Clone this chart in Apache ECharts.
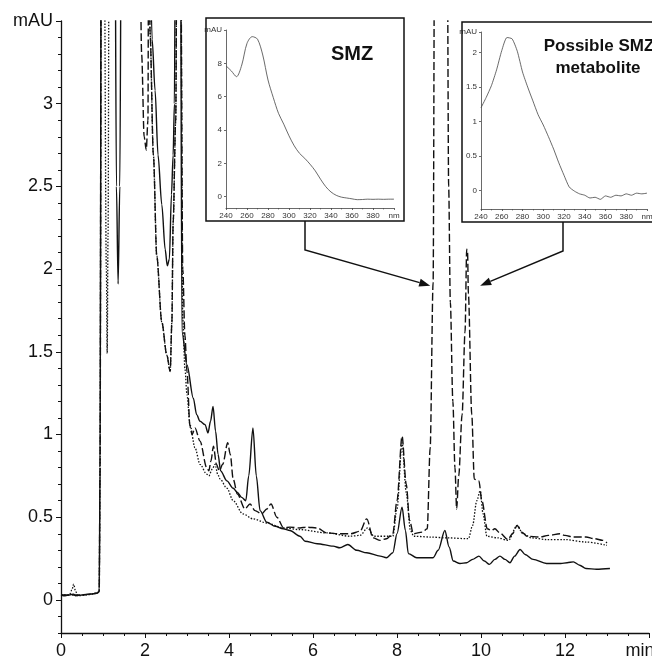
<!DOCTYPE html>
<html>
<head>
<meta charset="utf-8">
<script src="https://cdn.jsdelivr.net/npm/echarts@6/dist/echarts.min.js"></script>
<style>
html,body{margin:0;padding:0;background:#fff;}
#c{width:652px;height:660px;}
</style>
</head>
<body>
<div id="c"></div>
<script>
// ---- main chromatogram traces [time (min), absorbance (mAU)] ----
const solidTrace = [[0,0.03],[0.1,0.025],[0.2,0.03],[0.3,0.035],[0.35,0.025],[0.5,0.03],[0.7,0.035],[0.85,0.04],[0.91,0.05],[0.93,0.8],[0.96,4.5],[1.28,4.5],[1.32,2.5],[1.36,1.91],[1.40,2.5],[1.44,4.5],[2.08,4.5],[2.17,3.39],[2.24,3.08],[2.31,2.69],[2.4,2.39],[2.48,2.12],[2.53,2.02],[2.58,2.06],[2.63,2.45],[2.67,2.69],[2.70,3.0],[2.73,4.5],[2.84,4.5],[2.88,1.62],[3.0,1.42],[3.15,1.22],[3.23,1.12],[3.31,1.08],[3.43,1.06],[3.5,1.01],[3.56,1.08],[3.62,1.17],[3.68,1.02],[3.74,0.88],[3.8,0.78],[3.95,0.72],[4.1,0.675],[4.2,0.65],[4.3,0.62],[4.4,0.6],[4.47,0.75],[4.57,1.04],[4.65,0.75],[4.74,0.54],[4.9,0.47],[5.1,0.445],[5.29,0.43],[5.45,0.42],[5.69,0.385],[5.81,0.355],[6.1,0.34],[6.48,0.325],[6.64,0.315],[6.83,0.335],[7.04,0.3],[7.28,0.285],[7.6,0.265],[7.75,0.255],[7.9,0.285],[8.0,0.4],[8.12,0.56],[8.2,0.42],[8.27,0.28],[8.47,0.255],[8.86,0.255],[8.98,0.3],[9.14,0.42],[9.24,0.32],[9.34,0.235],[9.5,0.22],[9.66,0.225],[9.8,0.245],[9.95,0.265],[10.08,0.235],[10.2,0.215],[10.33,0.245],[10.45,0.265],[10.57,0.245],[10.69,0.225],[10.8,0.265],[10.93,0.305],[11.05,0.275],[11.24,0.245],[11.56,0.22],[11.9,0.22],[12.05,0.225],[12.2,0.23],[12.35,0.21],[12.5,0.19],[12.75,0.185],[13.07,0.19]];
const dashedTrace = [[0,0.03],[0.2,0.03],[0.35,0.03],[0.5,0.03],[0.85,0.04],[0.91,0.05],[0.93,0.8],[0.96,4.5],[1.86,4.5],[1.92,3.3],[1.98,2.8],[2.03,2.72],[2.07,2.9],[2.09,4.5],[2.12,3.43],[2.2,2.69],[2.28,2.08],[2.4,1.68],[2.52,1.48],[2.6,1.38],[2.64,1.68],[2.67,2.28],[2.73,2.89],[2.77,4.5],[2.84,4.5],[2.9,2.0],[2.95,1.6],[3.0,1.38],[3.07,1.05],[3.12,1.0],[3.19,1.04],[3.31,0.96],[3.47,0.8],[3.52,0.78],[3.57,0.84],[3.63,0.93],[3.7,0.82],[3.77,0.78],[3.85,0.82],[3.97,0.95],[4.03,0.88],[4.1,0.73],[4.2,0.64],[4.38,0.55],[4.5,0.58],[4.62,0.54],[4.78,0.52],[4.9,0.55],[5.0,0.58],[5.14,0.5],[5.3,0.435],[5.45,0.44],[5.69,0.435],[5.85,0.44],[6.1,0.435],[6.33,0.405],[6.64,0.4],[6.9,0.4],[7.12,0.415],[7.28,0.49],[7.43,0.375],[7.6,0.36],[7.75,0.37],[7.9,0.4],[8.0,0.6],[8.12,0.99],[8.22,0.7],[8.3,0.48],[8.39,0.4],[8.6,0.41],[8.72,0.43],[8.79,0.92],[8.86,1.92],[8.9,4.5],[9.19,4.5],[9.23,2.5],[9.27,1.8],[9.33,1.2],[9.38,0.8],[9.42,0.55],[9.47,0.75],[9.55,1.12],[9.62,1.62],[9.66,2.12],[9.68,2.1],[9.7,1.85],[9.78,1.12],[9.84,0.73],[9.95,0.72],[10.02,0.6],[10.15,0.43],[10.25,0.42],[10.33,0.43],[10.45,0.405],[10.64,0.365],[10.75,0.4],[10.86,0.45],[10.97,0.41],[11.1,0.385],[11.4,0.38],[11.6,0.39],[11.88,0.4],[12.0,0.39],[12.2,0.38],[12.5,0.38],[12.7,0.37],[12.9,0.36],[13.0,0.345]];
const dottedTrace = [[0,0.03],[0.2,0.03],[0.26,0.06],[0.3,0.095],[0.35,0.05],[0.4,0.025],[0.6,0.03],[0.85,0.04],[0.91,0.05],[0.93,0.8],[0.96,4.5],[1.02,4.5],[1.08,2.0],[1.1,1.49],[1.12,2.2],[1.15,4.5],[2.09,4.5],[2.12,3.43],[2.2,2.69],[2.28,2.08],[2.4,1.68],[2.52,1.48],[2.6,1.38],[2.64,1.68],[2.67,2.28],[2.73,2.89],[2.77,4.5],[2.84,4.5],[2.9,1.7],[2.95,1.4],[3.0,1.24],[3.07,1.06],[3.19,0.92],[3.31,0.82],[3.47,0.76],[3.52,0.75],[3.6,0.79],[3.67,0.82],[3.73,0.76],[3.79,0.73],[3.95,0.675],[4.1,0.6],[4.33,0.52],[4.57,0.49],[4.9,0.465],[5.29,0.435],[5.69,0.425],[6.33,0.405],[6.88,0.385],[7.12,0.39],[7.3,0.435],[7.45,0.385],[7.9,0.385],[8.0,0.55],[8.12,0.95],[8.22,0.65],[8.32,0.42],[8.4,0.385],[8.8,0.38],[9.2,0.375],[9.7,0.37],[9.8,0.45],[9.9,0.6],[9.98,0.66],[10.05,0.52],[10.14,0.385],[10.4,0.375],[10.65,0.36],[10.86,0.45],[11.0,0.4],[11.2,0.375],[11.56,0.365],[12.0,0.365],[12.5,0.35],[13.0,0.33]];

// ---- UV spectra (insets) ----
const wavelengths = [240,245,250,255,260,265,270,275,280,285,290,295,300,305,310,315,320,325,330,335,340,345,350,355,360,365,370,375,380,385,390,395,400];
const smzSpectrum = [7.85,7.55,7.2,7.9,9.2,9.6,9.45,8.5,7.0,5.95,5.0,4.35,3.65,3.05,2.6,2.3,1.95,1.55,1.05,0.6,0.28,0.08,-0.03,-0.08,-0.13,-0.18,-0.17,-0.15,-0.16,-0.15,-0.16,-0.15,-0.15];
const metSpectrum = [1.2,1.35,1.52,1.75,2.03,2.22,2.2,2.02,1.72,1.5,1.3,1.1,0.95,0.78,0.6,0.4,0.22,0.05,-0.01,-0.05,-0.07,-0.11,-0.1,-0.13,-0.08,-0.1,-0.07,-0.08,-0.05,-0.07,-0.04,-0.05,-0.04];

// ---- tick labels ----
const mainYTicks = [0,0.5,1,1.5,2,2.5,3,3.5];
const smzYTicks = [0,2,4,6,8,10];
const metYTicks = [0,0.5,1,1.5,2,2.3];

const FONT = 'Liberation Sans, Arial, sans-serif';
const chart = echarts.init(document.getElementById('c'), null, {renderer:'canvas'});

function pairs(xs, ys){ return xs.map((x,i)=>[x, ys[i]]); }

const insetAxisLine = {show:true, lineStyle:{color:'#444', width:0.8}};
const insetLabel = {color:'#333', fontSize:8, fontFamily:FONT, margin:4};
const mainLine = {type:'line', xAxisIndex:0, yAxisIndex:0, showSymbol:false, symbol:'none', clip:true, smooth:0.3, smoothMonotone:'x'};

const option = {
  animation:false,
  backgroundColor:'#fff',
  grid:[
    {left:61, right:3, top:21, bottom:27, containLabel:false, outerBoundsMode:'none'},
    {left:226, right:258, top:30, bottom:452, containLabel:false, outerBoundsMode:'none'},
    {left:481, right:5, top:32, bottom:451, containLabel:false, outerBoundsMode:'none'}
  ],
  xAxis:[
    {gridIndex:0, type:'value', min:0, max:14, interval:2,
     axisLine:{onZero:false, lineStyle:{color:'#111', width:1.3}},
     axisTick:{show:true, length:5, lineStyle:{color:'#111'}},
     minorTick:{show:true, splitNumber:4, length:3, lineStyle:{color:'#111'}},
     splitLine:{show:false},
     axisLabel:{color:'#111', fontSize:18, fontFamily:FONT, margin:9,
       formatter:function(v){ return v===14 ? '{u|min}' : String(v); },
       rich:{u:{fontSize:18, fontFamily:FONT, color:'#111', padding:[0,18,0,0]}}}},
    {gridIndex:1, type:'value', min:240, max:400, interval:20,
     axisLine:Object.assign({onZero:false}, insetAxisLine),
     axisTick:{length:2, lineStyle:{color:'#444', width:0.8}},
     minorTick:{show:true, splitNumber:2, length:1.5, lineStyle:{color:'#444', width:0.6}},
     splitLine:{show:false},
     axisLabel:Object.assign({formatter:function(v){return v===400?'nm':String(v);}}, insetLabel)},
    {gridIndex:2, type:'value', min:240, max:400, interval:20,
     axisLine:Object.assign({onZero:false}, insetAxisLine),
     axisTick:{length:2, lineStyle:{color:'#444', width:0.8}},
     minorTick:{show:true, splitNumber:2, length:1.5, lineStyle:{color:'#444', width:0.6}},
     splitLine:{show:false},
     axisLabel:Object.assign({formatter:function(v){return v===400?'nm':String(v);}}, insetLabel)}
  ],
  yAxis:[
    {gridIndex:0, type:'value', min:-0.2, max:3.5, position:'left',
     axisLine:{show:true, onZero:false, lineStyle:{color:'#111', width:1.3}},
     axisTick:{show:true, length:5, customValues:mainYTicks, lineStyle:{color:'#111'}},
     splitLine:{show:false},
     axisLabel:{color:'#111', fontSize:18, fontFamily:FONT, margin:8, customValues:mainYTicks,
       formatter:function(v){ return Math.abs(v-3.5)<1e-6 ? 'mAU' : String(v); }}},
    {gridIndex:0, type:'value', min:-0.2, max:3.5, interval:0.1, position:'left',
     axisLine:{show:false, onZero:false},
     axisTick:{show:true, length:3, lineStyle:{color:'#111'}},
     splitLine:{show:false}, axisLabel:{show:false}},
    {gridIndex:1, type:'value', min:-0.68, max:10,
     axisLine:Object.assign({onZero:false}, insetAxisLine),
     axisTick:{length:2, customValues:smzYTicks, lineStyle:{color:'#444', width:0.8}},
     splitLine:{show:false},
     axisLabel:Object.assign({customValues:smzYTicks, formatter:function(v){return v===10?'mAU':String(v);}}, insetLabel)},
    {gridIndex:2, type:'value', min:-0.27, max:2.3,
     axisLine:Object.assign({onZero:false}, insetAxisLine),
     axisTick:{length:2, customValues:metYTicks, lineStyle:{color:'#444', width:0.8}},
     splitLine:{show:false},
     axisLabel:Object.assign({customValues:metYTicks, formatter:function(v){return Math.abs(v-2.3)<1e-6?'mAU':String(v);}}, insetLabel)}
  ],
  series:[
    Object.assign({data:solidTrace, lineStyle:{color:'#111', width:1.4, type:'solid'}}, mainLine),
    Object.assign({data:dashedTrace, lineStyle:{color:'#111', width:1.4, type:[8,3]}}, mainLine),
    Object.assign({data:dottedTrace, lineStyle:{color:'#111', width:1.3, type:[1.5,1.6]}}, mainLine),
    {type:'line', xAxisIndex:1, yAxisIndex:2, data:pairs(wavelengths, smzSpectrum), showSymbol:false, symbol:'none', smooth:0.3,
     lineStyle:{color:'#444', width:0.8}},
    {type:'line', xAxisIndex:2, yAxisIndex:3, data:pairs(wavelengths, metSpectrum), showSymbol:false, symbol:'none', smooth:0.2,
     lineStyle:{color:'#444', width:0.8}}
  ]
};
chart.setOption(option);

// ---- annotation: inset boxes, titles and arrows ----
function arrow(x0, y0, xm, ym, tip){
  const dx = tip[0]-xm, dy = tip[1]-ym, L = Math.sqrt(dx*dx+dy*dy);
  const ux = dx/L, uy = dy/L, len = 11, hw = 4;
  const bx = tip[0]-ux*len, by = tip[1]-uy*len;
  return [
    {type:'polyline', shape:{points:[[x0,y0],[xm,ym],[bx,by]]}, style:{stroke:'#111', lineWidth:1.5, fill:null}, z:20},
    {type:'polygon', shape:{points:[tip,[bx-uy*hw, by+ux*hw],[bx+uy*hw, by-ux*hw]]}, style:{fill:'#111'}, z:20}
  ];
}
const tipSMZ = chart.convertToPixel({gridIndex:0}, [8.79, 1.9]);
const tipMet = chart.convertToPixel({gridIndex:0}, [9.98, 1.9]);
const graphics = [
  {type:'rect', shape:{x:206, y:18, width:198, height:203}, style:{stroke:'#111', lineWidth:1.5, fill:null}, z:20},
  {type:'rect', shape:{x:462, y:22, width:220, height:200}, style:{stroke:'#111', lineWidth:1.5, fill:null}, z:20},
  {type:'text', x:352, y:54, style:{text:'SMZ', font:'bold 20px ' + FONT, fill:'#111', textAlign:'center', textVerticalAlign:'middle'}, z:20},
  {type:'text', x:599, y:46, style:{text:'Possible SMZ', font:'bold 17px ' + FONT, fill:'#111', textAlign:'center', textVerticalAlign:'middle'}, z:20},
  {type:'text', x:598, y:68, style:{text:'metabolite', font:'bold 17px ' + FONT, fill:'#111', textAlign:'center', textVerticalAlign:'middle'}, z:20}
].concat(arrow(305, 221, 305, 250, tipSMZ)).concat(arrow(563, 222, 563, 251, tipMet));
chart.setOption({graphic:graphics});
</script>
</body>
</html>
